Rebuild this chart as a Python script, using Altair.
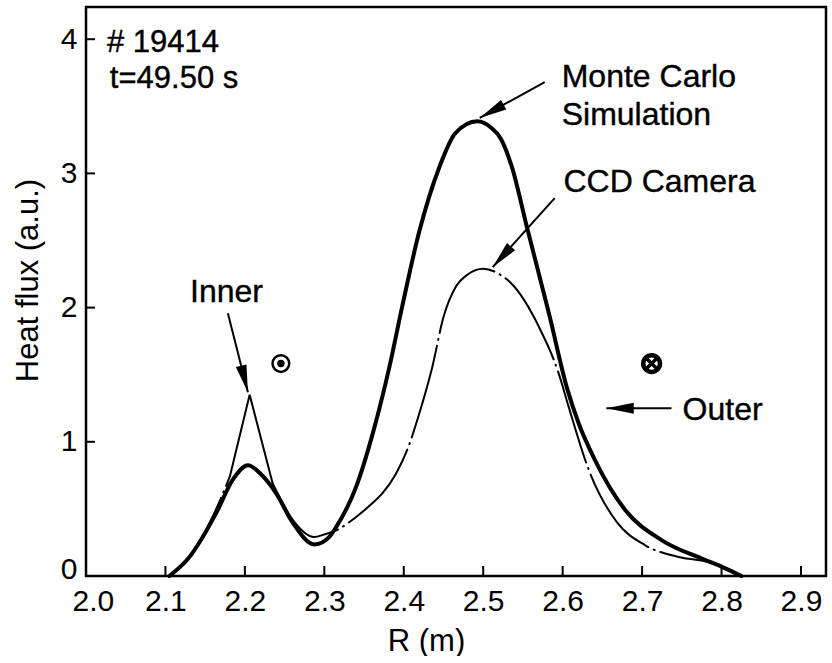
import math
import altair as alt
import pandas as pd

# ---------------- data ----------------
r_mc = [2.105, 2.13, 2.164, 2.185, 2.204, 2.22, 2.239, 2.26, 2.2875, 2.306, 2.315, 2.340,
        2.361, 2.382, 2.398, 2.419, 2.445, 2.465, 2.4925, 2.51, 2.522, 2.536, 2.555,
        2.583, 2.6055, 2.62, 2.641, 2.679, 2.725, 2.775, 2.80, 2.825]
y_mc = [0.0, 0.14, 0.47, 0.72, 0.826, 0.76, 0.62, 0.40, 0.235, 0.29, 0.366, 0.664,
        1.063, 1.56, 2.007, 2.555, 3.05, 3.30, 3.388, 3.34, 3.26, 3.05, 2.60,
        1.95, 1.40, 1.14, 0.86, 0.49, 0.266, 0.13, 0.07, 0.0]

r_ccd = [2.105, 2.13, 2.16, 2.181, 2.206, 2.235, 2.26, 2.2875, 2.30, 2.315, 2.340, 2.36,
         2.373, 2.39, 2.405, 2.42, 2.436, 2.45, 2.465, 2.48, 2.50, 2.52, 2.537, 2.570,
         2.595, 2.6076, 2.633, 2.668, 2.704, 2.746, 2.783, 2.80, 2.822]
y_ccd = [0.0, 0.14, 0.45, 0.74, 1.35, 0.69, 0.42, 0.29, 0.31, 0.34, 0.44, 0.54,
         0.615, 0.76, 0.95, 1.22, 1.56, 1.93, 2.15, 2.245, 2.29, 2.25, 2.17, 1.858,
         1.51, 1.26, 0.789, 0.403, 0.229, 0.142, 0.104, 0.07, 0.0]
# the CCD profile has a sharp inner peak: points 3..5 are joined by straight lines
ccd_sharp = (3, 5)

x_ticks = [2.0, 2.1, 2.2, 2.3, 2.4, 2.5, 2.6, 2.7, 2.8, 2.9]
y_ticks = [0, 1, 2, 3, 4]

ann_text = ["# 19414", "t=49.50 s", "Monte Carlo", "Simulation", "CCD Camera", "Inner", "Outer"]
ann_x = [2.0264, 2.030, 2.5988, 2.5988, 2.601, 2.131, 2.751]
ann_y = [3.905, 3.637, 3.644, 3.361, 2.861, 2.041, 1.161]
ann_fs = [31, 31, 32, 32, 32, 32, 32]

arr_x0 = [2.1786, 2.5774, 2.590, 2.737]
arr_y0 = [1.958, 3.681, 2.816, 1.25]
arr_x1 = [2.2038, 2.4956, 2.512, 2.655]
arr_y1 = [1.369, 3.413, 2.302, 1.25]

sym_odot = (2.2453, 1.583)
sym_otimes = (2.712, 1.583)

# ---------------- layout ----------------
X_DOMAIN = [2.0, 2.9315]
Y_DOMAIN = [0.0, 4.24]
W, H = 740, 569
FONT = "Liberation Sans"

xs = alt.Scale(domain=X_DOMAIN, nice=False, zero=False)
ys = alt.Scale(domain=Y_DOMAIN, nice=False, zero=False)

kx = W / (X_DOMAIN[1] - X_DOMAIN[0])
ky = H / (Y_DOMAIN[1] - Y_DOMAIN[0])

# ---------------- tables ----------------
mc_df = pd.DataFrame({"R": r_mc, "q": y_mc, "seg": 0})

rows = []
a, b = ccd_sharp
for i in range(0, a + 1):
    rows.append({"R": r_ccd[i], "q": y_ccd[i], "seg": "A"})
for i in range(b, len(r_ccd)):
    rows.append({"R": r_ccd[i], "q": y_ccd[i], "seg": "C"})
ccd_smooth = pd.DataFrame(rows)
ccd_peak = pd.DataFrame({"R": r_ccd[a:b + 1], "q": y_ccd[a:b + 1]})

ann_df = pd.DataFrame({"t": ann_text, "R": ann_x, "q": ann_y, "fs": ann_fs})

angles = []
for x0, y0, x1, y1 in zip(arr_x0, arr_y0, arr_x1, arr_y1):
    dx = (x1 - x0) * kx
    dy = -(y1 - y0) * ky
    angles.append(math.degrees(math.atan2(dx, -dy)) % 360)
arr_df = pd.DataFrame({"x0": arr_x0, "y0": arr_y0, "x1": arr_x1, "y1": arr_y1, "ang": angles})

xt_df = pd.DataFrame({"v": x_ticks})
yt_df = pd.DataFrame({"v": y_ticks})

# ---------------- layers ----------------
x_axis = alt.Axis(values=x_ticks, format=".1f", ticks=False, domain=False, grid=False,
                  labelFontSize=30, labelFont=FONT, labelColor="black", labelPadding=10,
                  labelFlush=True, labelFlushOffset=14,
                  title="R (m)", titleFontSize=31, titleFont=FONT, titleFontWeight="normal",
                  titleColor="black", titleX=340, titleY=74, titleAlign="center",
                  titleBaseline="alphabetic")
y_axis = alt.Axis(values=y_ticks, format="d", ticks=False, domain=False, grid=False,
                  labelFontSize=30, labelFont=FONT, labelColor="black", labelPadding=9,
                  labelFlush=True, labelFlushOffset=8,
                  title="Heat flux (a.u.)", titleFontSize=31, titleFont=FONT,
                  titleFontWeight="normal", titleColor="black", titleAngle=270,
                  titleX=-49, titleY=273, titleAlign="center", titleBaseline="alphabetic")

mc = alt.Chart(mc_df).mark_line(color="black", strokeWidth=4, interpolate="monotone",
                                strokeCap="round").encode(
    x=alt.X("R:Q", scale=xs, axis=x_axis),
    y=alt.Y("q:Q", scale=ys, axis=y_axis),
    detail="seg:N",
)

dash = [95, 6, 1, 6]
ccd1 = alt.Chart(ccd_smooth).mark_line(color="black", strokeWidth=2, interpolate="monotone",
                                       strokeDash=dash, strokeCap="round").encode(
    x=alt.X("R:Q", scale=xs), y=alt.Y("q:Q", scale=ys), detail="seg:N")
ccd2 = alt.Chart(ccd_peak).mark_line(color="black", strokeWidth=2, interpolate="linear",
                                     strokeJoin="miter").encode(
    x=alt.X("R:Q", scale=xs), y=alt.Y("q:Q", scale=ys))

xtick = alt.Chart(xt_df).mark_rule(color="black", strokeWidth=2).encode(
    x=alt.X("v:Q", scale=xs), y=alt.value(H), y2=alt.value(H - 10))
ytick = alt.Chart(yt_df).mark_rule(color="black", strokeWidth=2).encode(
    y=alt.Y("v:Q", scale=ys), x=alt.value(0), x2=alt.value(9))

labels = alt.Chart(ann_df).mark_text(align="left", baseline="alphabetic", font=FONT,
                                     color="black", stroke="black", strokeWidth=0.4).encode(
    x=alt.X("R:Q", scale=xs), y=alt.Y("q:Q", scale=ys), text="t:N",
    size=alt.Size("fs:Q", scale=None))

shafts = alt.Chart(arr_df).mark_rule(color="black", strokeWidth=2).encode(
    x=alt.X("x0:Q", scale=xs), y=alt.Y("y0:Q", scale=ys), x2="x1:Q", y2="y1:Q")
heads = alt.Chart(arr_df).mark_point(shape="M0,0L0.4,2L-0.4,2Z", filled=True, color="black",
                                     opacity=1, size=750).encode(
    x=alt.X("x1:Q", scale=xs), y=alt.Y("y1:Q", scale=ys), angle=alt.Angle("ang:Q", scale=None))

sym_df = pd.DataFrame({"R": [sym_odot[0], sym_otimes[0]], "q": [sym_odot[1], sym_otimes[1]],
                       "k": ["odot", "otimes"]})
ring1 = alt.Chart(sym_df[sym_df.k == "odot"]).mark_point(
    shape="circle", filled=False, color="black", size=280, strokeWidth=2.5, opacity=1).encode(
    x=alt.X("R:Q", scale=xs), y=alt.Y("q:Q", scale=ys))
dot1 = alt.Chart(sym_df[sym_df.k == "odot"]).mark_point(
    shape="circle", filled=True, color="black", size=55, opacity=1).encode(
    x=alt.X("R:Q", scale=xs), y=alt.Y("q:Q", scale=ys))
ring2 = alt.Chart(sym_df[sym_df.k == "otimes"]).mark_point(
    shape="circle", filled=False, color="black", size=280, strokeWidth=4.5, opacity=1).encode(
    x=alt.X("R:Q", scale=xs), y=alt.Y("q:Q", scale=ys))
cross2 = alt.Chart(sym_df[sym_df.k == "otimes"]).mark_point(
    shape="M-1,-1L1,1M1,-1L-1,1", filled=False, color="black", size=100, strokeWidth=3.5,
    opacity=1).encode(
    x=alt.X("R:Q", scale=xs), y=alt.Y("q:Q", scale=ys))

chart = alt.layer(mc, ccd1, ccd2, xtick, ytick, labels, shafts, heads,
                  ring1, dot1, ring2, cross2).properties(
    width=W, height=H,
    autosize=alt.AutoSizeParams(type="none"),
    padding={"left": 86, "top": 7, "right": 6, "bottom": 80},
    background="white",
).configure_view(stroke="black", strokeWidth=2.5).configure_axis(grid=False)

chart.save("out.html", embed_options={"renderer": "svg", "actions": False})
